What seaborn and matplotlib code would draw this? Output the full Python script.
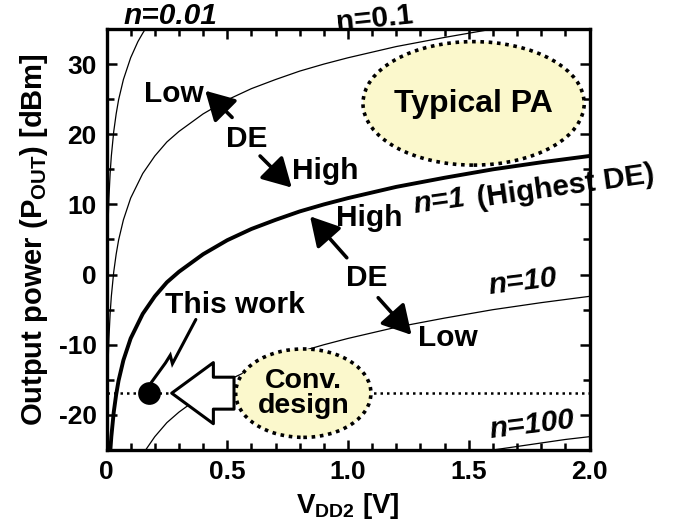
import matplotlib
matplotlib.use("Agg")
import matplotlib.pyplot as plt
from matplotlib.patches import Ellipse
import seaborn as sns
import pandas as pd

# curves: V_DD2 [V] vs P_OUT [dBm]
v_n001 = [0.0002, 0.0005, 0.001, 0.002, 0.003, 0.005, 0.007, 0.01, 0.015, 0.02,
          0.03, 0.04, 0.05, 0.07, 0.1, 0.13, 0.15, 0.17]
p_n001 = [-23.1, -15.1, -9.1, -3.1, 0.4, 4.9, 7.8, 10.9, 14.4, 16.9,
          20.4, 22.9, 24.9, 27.8, 30.9, 33.2, 34.4, 35.5]

v_n01 = [0.0015, 0.002, 0.003, 0.005, 0.007, 0.01, 0.015, 0.02, 0.03, 0.04, 0.05,
         0.07, 0.1, 0.15, 0.2, 0.25, 0.3, 0.4, 0.5, 0.6, 0.7, 0.8, 0.9, 1.0,
         1.2, 1.4, 1.6, 1.7]
p_n01 = [-25.6, -23.1, -19.6, -15.1, -12.2, -9.1, -5.6, -3.1, 0.4, 2.9, 4.9,
         7.8, 10.9, 14.4, 16.9, 18.9, 20.4, 22.9, 24.9, 26.5, 27.8, 29.0, 30.0, 30.9,
         32.5, 33.8, 35.0, 35.5]

v_n1 = [0.016, 0.02, 0.03, 0.04, 0.05, 0.07, 0.1, 0.15, 0.2, 0.25, 0.3, 0.4,
        0.5, 0.6, 0.7, 0.8, 0.9, 1.0, 1.2, 1.4, 1.6, 1.8, 2.0]
p_n1 = [-25.0, -23.1, -19.6, -17.1, -15.1, -12.2, -9.1, -5.6, -3.1, -1.1, 0.4, 2.9,
        4.9, 6.5, 7.8, 9.0, 10.0, 10.9, 12.5, 13.8, 15.0, 16.0, 16.9]

v_n10 = [0.15, 0.2, 0.25, 0.3, 0.4, 0.5, 0.6, 0.7, 0.8, 0.9, 1.0, 1.2, 1.4,
         1.6, 1.8, 2.0]
p_n10 = [-25.6, -23.1, -21.1, -19.6, -17.1, -15.1, -13.5, -12.2, -11.0, -10.0,
         -9.1, -7.5, -6.2, -5.0, -4.0, -3.1]

v_n100 = [1.5, 1.6, 1.7, 1.8, 1.9, 2.0]
p_n100 = [-25.6, -25.0, -24.5, -24.0, -23.5, -23.1]

this_work_v = 0.175
this_work_p = -16.9
conv_level = -16.9

plt.rcParams["figure.dpi"] = 100
sns.set_theme(style="ticks")
plt.rcParams["font.family"] = ["Liberation Sans", "DejaVu Sans"]
plt.rcParams["font.weight"] = "bold"
plt.rcParams["mathtext.fontset"] = "custom"
plt.rcParams["mathtext.rm"] = "Liberation Sans:bold"
plt.rcParams["mathtext.bf"] = "Liberation Sans:bold"
plt.rcParams["mathtext.it"] = "Liberation Sans:bold:italic"
plt.rcParams["axes.unicode_minus"] = False
for key in ["text.color", "axes.labelcolor", "xtick.color", "ytick.color",
            "axes.edgecolor"]:
    plt.rcParams[key] = "black"

fs = 21.5

fig = plt.figure(figsize=(6.77, 5.29))
ax = fig.add_axes([106.5 / 677, 79 / 529, 483 / 677, 421 / 529])

curves = [(v_n001, p_n001, 0.9), (v_n01, p_n01, 0.9), (v_n1, p_n1, 2.8),
          (v_n10, p_n10, 0.9), (v_n100, p_n100, 0.9)]
for v, p, lw in curves:
    df = pd.DataFrame({"v": v, "p": p})
    sns.lineplot(data=df, x="v", y="p", ax=ax, color="black", lw=lw,
                 sort=False, estimator=None, zorder=3)

# conventional design level
ax.axhline(conv_level, color="black", lw=1.8, ls=(0, (1, 1.6)), zorder=2)

# ellipses
ax.add_patch(Ellipse((0.815, -16.9), 0.56, 12.6, fc="#fbf8cc", ec="black",
                     lw=2.6, ls=(0, (1, 1.3)), zorder=5))
ax.text(0.815, -16.9, "Conv.\ndesign", ha="center", va="center", fontsize=20.5,
        linespacing=0.95, zorder=6)
ax.add_patch(Ellipse((1.52, 24.4), 0.916, 17.6, fc="#fbf8cc", ec="black",
                     lw=2.6, ls=(0, (1, 1.3)), zorder=5))
ax.text(1.52, 24.3, "Typical PA", ha="center", va="center", fontsize=23, zorder=6)

# big hollow arrow towards this work
ax.annotate("", xy=(0.27, conv_level), xytext=(0.528, conv_level),
            arrowprops=dict(arrowstyle="simple,head_length=3.0,head_width=4.4,tail_width=2.3",
                            fc="white", ec="black", lw=2.2, shrinkA=0, shrinkB=0,
                            mutation_scale=10), zorder=6)

# this work point
sns.scatterplot(x=[this_work_v], y=[this_work_p], ax=ax, color="black", s=230,
                edgecolor="black", zorder=7)
ax.plot([0.185, 0.244, 0.264, 0.273, 0.37], [-15.4, -12.6, -11.5, -12.7, -6.4],
        color="black", lw=2.2, zorder=7, solid_joinstyle="miter")
ax.text(0.53, -4.3, "This work", ha="center", va="center", fontsize=fs)

# DE arrows and labels
arrow_kw = dict(arrowstyle="-|>,head_length=0.8,head_width=0.45", color="black",
                lw=2.6, shrinkA=0, shrinkB=0, mutation_scale=22)
ax.annotate("", xy=(0.409, 26.2), xytext=(0.52, 22.4), arrowprops=arrow_kw)
ax.annotate("", xy=(0.767, 12.4), xytext=(0.636, 16.9), arrowprops=arrow_kw)
ax.annotate("", xy=(0.843, 8.3), xytext=(0.995, 2.4), arrowprops=arrow_kw)
ax.annotate("", xy=(1.263, -8.6), xytext=(1.125, -3.3), arrowprops=arrow_kw)
ax.text(0.277, 25.8, "Low", ha="center", va="center", fontsize=fs)
ax.text(0.581, 19.3, "DE", ha="center", va="center", fontsize=fs)
ax.text(0.905, 14.8, "High", ha="center", va="center", fontsize=fs)
ax.text(1.09, 8.1, "High", ha="center", va="center", fontsize=fs)
ax.text(1.077, -0.5, "DE", ha="center", va="center", fontsize=fs)
ax.text(1.415, -9.1, "Low", ha="center", va="center", fontsize=fs)

# n labels
ax.text(0.264, 36.9, "n=0.01", ha="center", va="center", fontsize=fs,
        style="italic", clip_on=False)
ax.text(1.11, 36.4, "n=0.1", ha="center", va="center", fontsize=fs,
        rotation=6, clip_on=False)
ax.text(1.38, 10.4, "n=1", ha="center", va="center", fontsize=fs,
        style="italic", rotation=8, clip_on=False)
ax.text(1.9, 12.5, "(Highest DE)", ha="center", va="center", fontsize=fs,
        rotation=8, clip_on=False)
ax.text(1.725, -1.0, "n=10", ha="center", va="center", fontsize=fs,
        style="italic", rotation=7)
ax.text(1.76, -21.4, "n=100", ha="center", va="center", fontsize=fs,
        style="italic", rotation=7)

ax.set_xlim(0, 2.0)
ax.set_ylim(-25, 35)
ax.set_xticks([0, 0.5, 1.0, 1.5, 2.0])
ax.set_xticklabels(["0", "0.5", "1.0", "1.5", "2.0"])
ax.set_xticks([i / 10 for i in range(21)], minor=True)
ax.set_yticks([-20, -10, 0, 10, 20, 30])
ax.set_yticks(list(range(-25, 36, 5)), minor=True)
ax.tick_params(which="both", direction="in", top=True, right=True, width=1.8,
               labelsize=19, pad=7, colors="black")
ax.tick_params(which="major", length=7)
ax.tick_params(which="minor", length=5)
for lab in ax.get_xticklabels() + ax.get_yticklabels():
    lab.set_fontweight("bold")
for sp in ax.spines.values():
    sp.set_linewidth(2.4)
    sp.set_color("black")
    sp.set_visible(True)

ax.set_xlabel(r"V$_{\mathrm{DD2}}$ [V]", fontsize=20, fontweight="bold", labelpad=5)
ax.set_ylabel(r"Output power (P$_{\mathrm{OUT}}$) [dBm]", fontsize=21,
              fontweight="bold", labelpad=6)

fig.savefig("out.png", dpi=100)
plt.close(fig)
